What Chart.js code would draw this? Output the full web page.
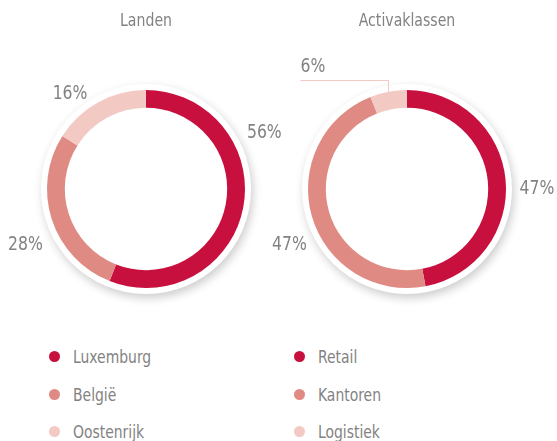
<!DOCTYPE html>
<html>
<head>
<meta charset="utf-8">
<script src="https://cdn.jsdelivr.net/npm/chart.js@4.4.1/dist/chart.umd.min.js"></script>
<style>
  html, body { margin: 0; padding: 0; background: #fff; }
  #wrap { position: relative; width: 557px; height: 441px; overflow: hidden; }
  #wrap canvas { position: absolute; left: 0; top: 0; }
  .legend { position: absolute; top: 338px; font: 18px "Liberation Sans Narrow", "DejaVu Sans Condensed", sans-serif; color: #828282; }
  .legend .item { position: absolute; white-space: nowrap; height: 38px; line-height: 38px; }
  .legend .dot { position: absolute; width: 11px; height: 11px; border-radius: 50%; top: 13px; }
  .legend .txt { position: absolute; transform: scaleX(0.86); transform-origin: left center; }
</style>
</head>
<body>
<div id="wrap">
  <canvas id="landen" width="557" height="320"></canvas>
  <canvas id="activa" width="557" height="320"></canvas>
  <div class="legend" id="legendLeft" style="left:49px"></div>
  <div class="legend" id="legendRight" style="left:294px"></div>
</div>
<script>
// chart data
const titles = ['Landen', 'Activaklassen'];
const countryLabels = ['Luxemburg', 'België', 'Oostenrijk'];
const countryValues = [56, 28, 16];
const assetLabels = ['Retail', 'Kantoren', 'Logistiek'];
const assetValues = [47, 47, 6];
const sliceColors = ['#C8103E', '#E08A84', '#F2C9C3'];

const FONT = '"Liberation Sans Narrow", "DejaVu Sans Condensed", sans-serif';
const TEXT_GREY = '#828282';
const SQUEEZE = 0.87; // the original uses a narrow face

function narrowText(ctx, text, x, y) {
    ctx.fillText(text, x, y, ctx.measureText(text).width * SQUEEZE);
}

// white ring with soft shadow behind the doughnut, title and percentage labels
const ringDecor = {
    id: 'ringDecor',
    beforeDatasetsDraw(chart, args, opts) {
        const arc = chart.getDatasetMeta(0).data[0];
        if (!arc) return;
        const ctx = chart.ctx;
        ctx.save();
        ctx.shadowColor = 'rgba(0,0,0,0.2)';
        ctx.shadowBlur = 10;
        ctx.shadowOffsetX = 2;
        ctx.shadowOffsetY = 4;
        ctx.fillStyle = '#fff';
        ctx.beginPath();
        ctx.arc(arc.x, arc.y, arc.outerRadius + opts.ringWidth, 0, Math.PI * 2);
        ctx.fill();
        ctx.restore();
    },
    afterDatasetsDraw(chart, args, opts) {
        const meta = chart.getDatasetMeta(0);
        const values = chart.data.datasets[0].data;
        const total = values.reduce((a, b) => a + b, 0);
        const ctx = chart.ctx;
        ctx.save();
        ctx.fillStyle = TEXT_GREY;

        // title above the ring
        ctx.font = '18px ' + FONT;
        ctx.textAlign = 'center';
        ctx.textBaseline = 'middle';
        narrowText(ctx, opts.title, meta.data[0].x, opts.titleY);

        ctx.font = '20px ' + FONT;
        meta.data.forEach(function(arc, i) {
            const text = Math.round(values[i] / total * 100) + '%';
            const callout = opts.callouts && opts.callouts[i];
            if (callout) {
                // leader line from the middle of the slice
                const mid = (arc.startAngle + arc.endAngle) / 2;
                const x0 = arc.x + Math.cos(mid) * arc.outerRadius;
                const y0 = arc.y + Math.sin(mid) * arc.outerRadius;
                const y1 = y0 - callout.rise;
                const x1 = x0 - callout.run;
                ctx.strokeStyle = sliceColors[i];
                ctx.lineWidth = 1;
                ctx.beginPath();
                ctx.moveTo(Math.round(x0) + 0.5, y0);
                ctx.lineTo(Math.round(x0) + 0.5, Math.round(y1) + 0.5);
                ctx.lineTo(x1, Math.round(y1) + 0.5);
                ctx.stroke();
                ctx.textAlign = 'left';
                ctx.textBaseline = 'alphabetic';
                narrowText(ctx, text, x1, y1 - 8);
                return;
            }
            const deg = opts.labelAngles[i] * Math.PI / 180;
            const r = opts.labelRadius[i];
            ctx.textAlign = 'center';
            ctx.textBaseline = 'middle';
            narrowText(ctx, text, arc.x + Math.sin(deg) * r, arc.y - Math.cos(deg) * r);
        });
        ctx.restore();
    }
};

function makeDoughnut(canvasId, title, labels, values, padLeft, labelAngles, labelRadius, callouts) {
    const ctx = document.getElementById(canvasId).getContext('2d');
    return new Chart(ctx, {
        type: 'doughnut',
        data: {
            labels: labels,
            datasets: [{
                data: values,
                backgroundColor: sliceColors,
                borderWidth: 0,
                hoverOffset: 0
            }]
        },
        options: {
            responsive: false,
            animation: false,
            cutout: '82%',
            layout: {
                padding: { left: padLeft, right: 557 - padLeft - 198, top: 90, bottom: 32 }
            },
            plugins: {
                legend: { display: false },
                tooltip: { enabled: false },
                ringDecor: {
                    title: title,
                    titleY: 21,
                    ringWidth: 6,
                    labelRadius: labelRadius,
                    labelAngles: labelAngles,
                    callouts: callouts
                }
            }
        },
        plugins: [ringDecor]
    });
}

function buildLegend(elId, labels) {
    const el = document.getElementById(elId);
    labels.forEach(function(label, i) {
        const item = document.createElement('div');
        item.className = 'item';
        item.style.top = (i * 37.5) + 'px';
        item.innerHTML = '<span class="dot" style="background:' + sliceColors[i] + '"></span>' +
            '<span class="txt" style="left:24px">' + label + '</span>';
        el.appendChild(item);
    });
}

makeDoughnut('landen', titles[0], countryLabels, countryValues, 47,
    [64.6, 245, 321.5], [131, 133, 122], null);
makeDoughnut('activa', titles[1], assetLabels, assetValues, 308,
    [90, 244.7, 0], [130, 130, 130], [null, null, { rise: 12, run: 88 }]);
buildLegend('legendLeft', countryLabels);
buildLegend('legendRight', assetLabels);
</script>
</body>
</html>
